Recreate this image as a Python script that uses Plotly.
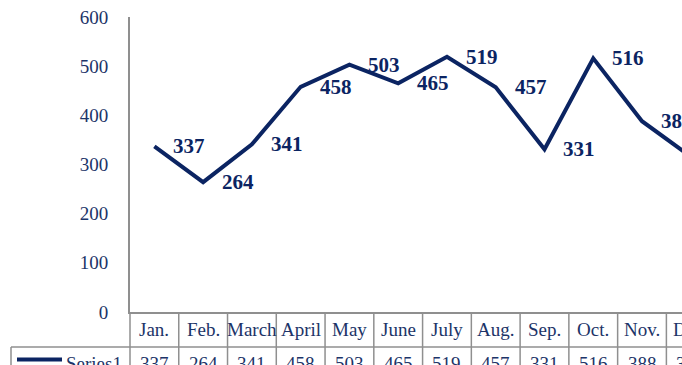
import plotly.graph_objects as go

months = ["Jan.", "Feb.", "March", "April", "May", "June", "July",
          "Aug.", "Sep.", "Oct.", "Nov.", "Dec."]
series1 = [337, 264, 341, 458, 503, 465, 519, 457, 331, 516, 388, 316]
y_ticks = [0, 100, 200, 300, 400, 500, 600]
series_name = "Series1"

NAVY = "#0b2462"
TEXT = "#1c3468"
GRID = "#8f8f8f"
SERIF = "Liberation Serif, Times New Roman, serif"

W, H = 682, 365
ML, MT, MB = 130, 17, 53
x_range = [-0.5, 10.82]
plot_w = W - ML
plot_h = H - MT - MB


def xp(cat_pos):
    # category position -> paper x
    return (cat_pos - x_range[0]) / (x_range[1] - x_range[0])


def px_x(px):
    return (px - ML) / plot_w


def px_y(px):
    return (H - MB - px) / plot_h


x_idx = list(range(len(months)))

fig = go.Figure()
fig.add_trace(go.Scatter(
    x=x_idx, y=series1, mode="lines",
    line=dict(color=NAVY, width=4), showlegend=False, hoverinfo="skip",
))

annotations = []
# data labels to the right of each point
for i, v in zip(x_idx, series1):
    annotations.append(dict(
        x=i, y=v, xref="x", yref="y", text=f"<b>{v}</b>", showarrow=False,
        xanchor="left", yanchor="middle", xshift=17,
        font=dict(family=SERIF, size=21, color=NAVY),
    ))

# data table: header and value rows
hdr_top, hdr_bot, row_bot = px_y(312), px_y(347), px_y(380)
row_mid = px_y(364)
shapes = []
line_style = dict(color=GRID, width=1.5)
for k in range(len(months) + 1):
    xb = xp(k - 0.5)
    shapes.append(dict(type="line", xref="paper", yref="paper",
                       x0=xb, x1=xb, y0=hdr_top, y1=row_bot, line=line_style))
shapes.append(dict(type="line", xref="paper", yref="paper",
                   x0=px_x(11), x1=xp(len(months)), y0=hdr_bot, y1=hdr_bot,
                   line=line_style))
shapes.append(dict(type="line", xref="paper", yref="paper",
                   x0=px_x(11), x1=px_x(11), y0=hdr_bot, y1=row_bot,
                   line=line_style))
# legend key in the table
shapes.append(dict(type="line", xref="paper", yref="paper",
                   x0=px_x(17), x1=px_x(62), y0=px_y(359.5), y1=px_y(359.5),
                   line=dict(color=NAVY, width=4)))

for i, (m, v) in enumerate(zip(months, series1)):
    annotations.append(dict(
        x=xp(i), y=(hdr_top + hdr_bot) / 2, xref="paper", yref="paper",
        text=m, showarrow=False, xanchor="center", yanchor="middle",
        font=dict(family=SERIF, size=19, color=TEXT),
    ))
    annotations.append(dict(
        x=xp(i), y=row_mid, xref="paper", yref="paper",
        text=str(v), showarrow=False, xanchor="center", yanchor="middle",
        font=dict(family=SERIF, size=19, color=TEXT),
    ))
annotations.append(dict(
    x=px_x(64), y=row_mid, xref="paper", yref="paper",
    text=series_name, showarrow=False, xanchor="left", yanchor="middle",
    font=dict(family=SERIF, size=19, color=TEXT),
))

fig.update_layout(
    width=W, height=H,
    margin=dict(l=ML, r=0, t=MT, b=MB, pad=0),
    paper_bgcolor="white", plot_bgcolor="white",
    shapes=shapes, annotations=annotations,
    xaxis=dict(range=x_range, showgrid=False, zeroline=False,
               showticklabels=False, ticks="", showline=True,
               linecolor=GRID, linewidth=2),
    yaxis=dict(range=[0, 600], tickvals=y_ticks, showgrid=False,
               zeroline=False, ticks="", showline=True, linecolor=GRID,
               linewidth=2, ticklabelstandoff=16,
               tickfont=dict(family=SERIF, size=19, color=TEXT)),
)

fig.write_html("out.html")
